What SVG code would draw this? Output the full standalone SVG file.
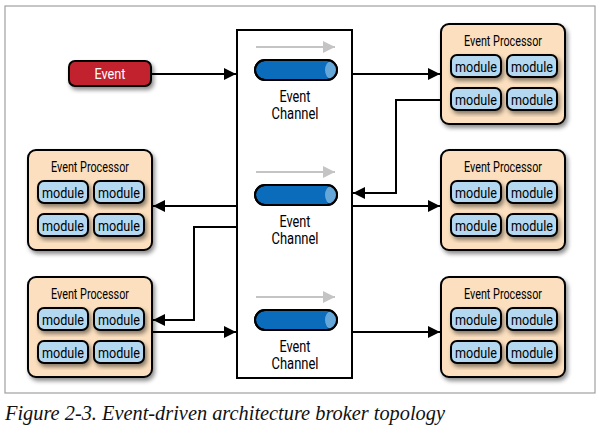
<svg xmlns="http://www.w3.org/2000/svg" width="600" height="439" viewBox="0 0 600 439">
<defs>
<filter id="sh" x="-20%" y="-20%" width="140%" height="150%">
<feDropShadow dx="2" dy="3" stdDeviation="2" flood-color="#000" flood-opacity="0.45"/>
</filter>
<marker id="ah" viewBox="0 0 12 12" refX="12" refY="6" markerWidth="12" markerHeight="12" markerUnits="userSpaceOnUse" orient="auto">
<path d="M0,0 L12,6 L0,12 Z" fill="#000"/>
</marker>
<marker id="gh" viewBox="0 0 12 12" refX="12" refY="6" markerWidth="12" markerHeight="12" markerUnits="userSpaceOnUse" orient="auto">
<path d="M0,0 L12,6 L0,12 Z" fill="#c4c4c4"/>
</marker>
<g id="proc">
<rect x="0" y="0" width="124" height="100" rx="8" fill="#fbdfbe" stroke="#000" stroke-width="2" filter="url(#sh)"/>
<text x="62" y="22" class="pt" textLength="78" lengthAdjust="spacingAndGlyphs">Event Processor</text>
<g class="mod">
<rect x="10" y="31" width="50" height="22" rx="6"/>
<rect x="66" y="31" width="50" height="22" rx="6"/>
<rect x="10" y="64" width="50" height="22" rx="6"/>
<rect x="66" y="64" width="50" height="22" rx="6"/>
</g>
<text x="35" y="47.5" class="mt" textLength="42" lengthAdjust="spacingAndGlyphs">module</text>
<text x="91" y="47.5" class="mt" textLength="42" lengthAdjust="spacingAndGlyphs">module</text>
<text x="35" y="80.5" class="mt" textLength="42" lengthAdjust="spacingAndGlyphs">module</text>
<text x="91" y="80.5" class="mt" textLength="42" lengthAdjust="spacingAndGlyphs">module</text>
</g>
<g id="chan">
<line x1="256" y1="0" x2="335" y2="0" stroke="#c4c4c4" stroke-width="2" marker-end="url(#gh)"/>
<rect x="255" y="13" width="82" height="20" rx="10" fill="#0b6cbc" stroke="#000" stroke-width="2"/>
<path d="M331,14 A6,9 0 0 1 331,32 A6,9 0 0 1 331,14 Z" fill="#64a7d8"/>
<rect x="255" y="13" width="82" height="20" rx="10" fill="none" stroke="#000" stroke-width="2"/>
<text x="295" y="55" class="ct" textLength="31" lengthAdjust="spacingAndGlyphs">Event</text>
<text x="295" y="72" class="ct" textLength="47" lengthAdjust="spacingAndGlyphs">Channel</text>
</g>
</defs>
<style>
text{font-family:Roboto,"Liberation Sans",sans-serif;text-anchor:middle;fill:#000}
.pt{font-size:15px}
.mt{font-size:15.5px}
.ct{font-size:17px}
.mod rect{fill:#b4d8f0;stroke:#000;stroke-width:2;filter:url(#sh)}
.conn path{fill:none;stroke:#000;stroke-width:2;marker-end:url(#ah)}
.cap{font-family:"Liberation Serif",serif;font-style:italic;font-size:21px;text-anchor:start;fill:#111}
</style>
<rect x="5" y="6" width="590" height="387" fill="#fff" stroke="#a0a0a0" stroke-width="1.2"/>
<g id="channel-box">
<rect x="237" y="30" width="115" height="348" fill="#fff" stroke="#000" stroke-width="2"/>
</g>
<g id="channel1"><use href="#chan" transform="translate(0,47)"/></g>
<g id="channel2"><use href="#chan" transform="translate(0,172)"/></g>
<g id="channel3"><use href="#chan" transform="translate(0,297)"/></g>
<g id="event">
<rect x="69" y="61" width="82" height="25" rx="6" fill="#c1232d" stroke="#000" stroke-width="2" filter="url(#sh)"/>
<text x="110" y="79" style="fill:#fff;font-size:15px" textLength="31" lengthAdjust="spacingAndGlyphs">Event</text>
</g>
<g id="proc-r1"><use href="#proc" transform="translate(441,24)"/></g>
<g id="proc-r2"><use href="#proc" transform="translate(441,150)"/></g>
<g id="proc-r3"><use href="#proc" transform="translate(441,277)"/></g>
<g id="proc-l1"><use href="#proc" transform="translate(28,150)"/></g>
<g id="proc-l2"><use href="#proc" transform="translate(28,277)"/></g>
<g id="connectors" class="conn">
<path d="M151,74 H236"/>
<path d="M353,74 H440"/>
<path d="M441,100 H396 V193 H353"/>
<path d="M237,206 H153"/>
<path d="M353,206 H440"/>
<path d="M237,227 H194 V320 H153"/>
<path d="M153,332 H236"/>
<path d="M353,332 H440"/>
</g>
<text x="5" y="420" class="cap" textLength="440" lengthAdjust="spacingAndGlyphs">Figure 2-3. Event-driven architecture broker topology</text>
</svg>
